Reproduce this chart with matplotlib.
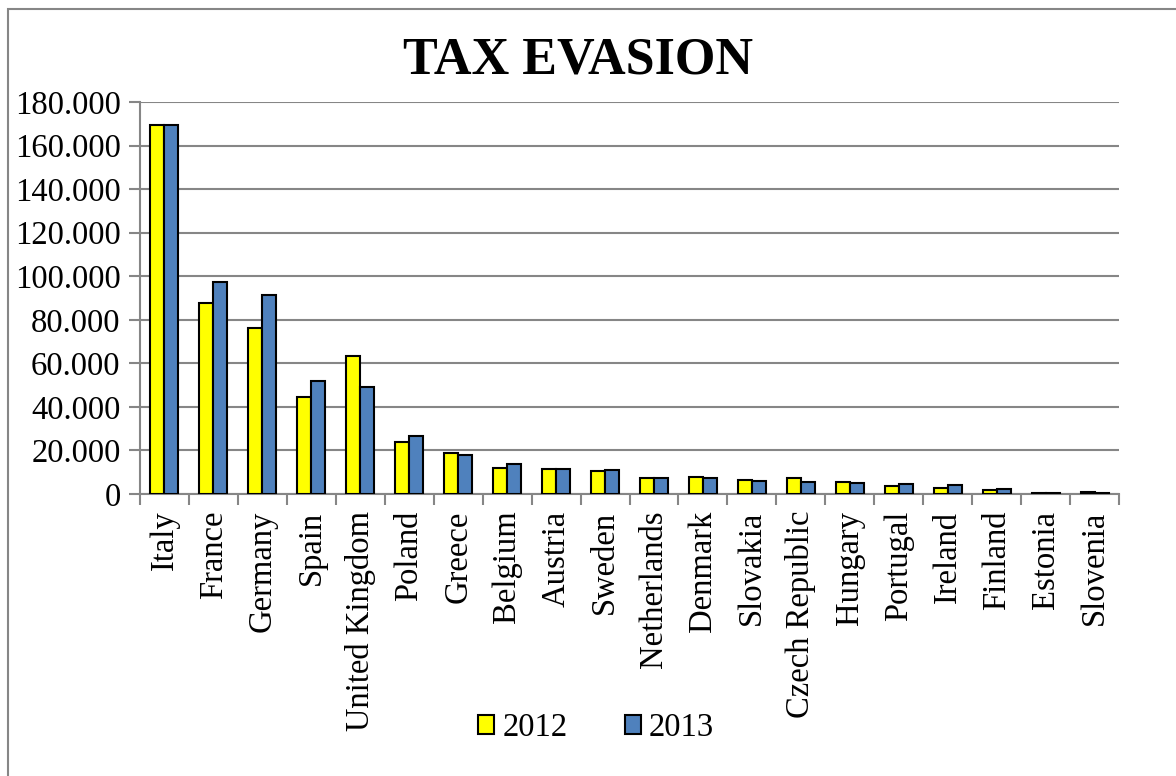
import numpy as np
import matplotlib.pyplot as plt
from matplotlib.patches import Rectangle
from matplotlib.ticker import FuncFormatter

countries = ["Italy", "France", "Germany", "Spain", "United Kingdom", "Poland",
             "Greece", "Belgium", "Austria", "Sweden", "Netherlands", "Denmark",
             "Slovakia", "Czech Republic", "Hungary", "Portugal", "Ireland",
             "Finland", "Estonia", "Slovenia"]
# tax evasion, thousands
evasion_2012 = [169400, 87800, 76100, 44700, 63500, 24000, 18700, 11800, 11600,
                10600, 7500, 7700, 6600, 7200, 5500, 3500, 2900, 1700, 600, 900]
evasion_2013 = [169600, 97300, 91400, 51900, 49300, 26500, 17800, 13600, 11600,
                11000, 7500, 7200, 6100, 5700, 4900, 4400, 4300, 2300, 600, 500]

plt.rcParams['font.family'] = ['Liberation Serif', 'DejaVu Serif']

fig = plt.figure(figsize=(11.76, 7.76), dpi=100)
ax = fig.add_axes([140/1176, 1 - 494/776, (1119 - 140)/1176, (494 - 102)/776])

# chart-area frame (runs off the right and bottom edges)
fig.patches.append(Rectangle((8/1176, -0.1), 1.2, 1 - 9/776 + 0.1,
                             transform=fig.transFigure, fill=False,
                             edgecolor='#868686', lw=1.5))

x = np.arange(len(countries))
w = 0.286
ax.bar(x - w/2, evasion_2012, w, color='#FFFF00', edgecolor='black', lw=1.5,
       label='2012', zorder=3)
ax.bar(x + w/2, evasion_2013, w, color='#4F81BD', edgecolor='black', lw=1.5,
       label='2013', zorder=3)

ax.set_xlim(-0.5, len(countries) - 0.5)
ax.set_ylim(0, 180000)
ax.set_yticks(np.arange(0, 180001, 20000))
ax.yaxis.set_major_formatter(FuncFormatter(
    lambda v, p: '0' if v == 0 else f"{int(v):,}".replace(',', '.')))
ax.grid(axis='y', color='#868686', lw=1.5, zorder=0)

ax.set_xticks(x)
ax.set_xticklabels(countries, rotation=90, fontsize=23.5)
ax.set_xticks(np.arange(-0.5, len(countries)), minor=True)
ax.tick_params(axis='x', which='major', length=0, pad=12)
ax.tick_params(axis='x', which='minor', length=8, width=1.5, color='#868686')
ax.tick_params(axis='y', labelsize=23.5, length=8, width=1.5, color='#868686', pad=6)

for s in ['top', 'right']:
    ax.spines[s].set_visible(False)
for s in ['left', 'bottom']:
    ax.spines[s].set_color('#868686')
    ax.spines[s].set_linewidth(1.5)

fig.text(0.5 * (405 + 752) / 1176, 1 - 60/776, 'TAX EVASION', fontsize=37.5,
         fontweight='bold', ha='center', va='center')

fig.legend(loc='center', bbox_to_anchor=(596/1176, 1 - 728/776), ncol=2,
           frameon=False, fontsize=23.5, handlelength=0.5, handleheight=0.5,
           handletextpad=0.25, columnspacing=1.75)

fig.savefig('out.png', dpi=100)
